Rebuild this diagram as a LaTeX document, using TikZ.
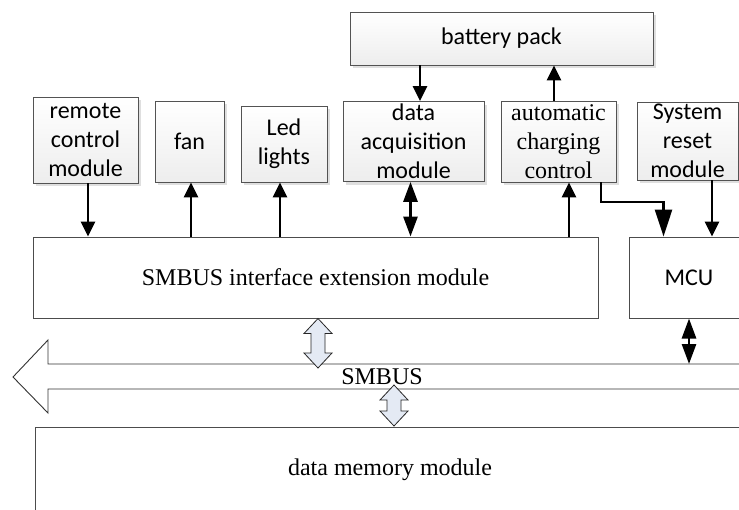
\documentclass[tikz,border=0pt]{standalone}
\usepackage{fontspec}
\setmainfont{Liberation Serif}
\setsansfont{Carlito}
\usetikzlibrary{arrows.meta,shadows,calc}
\definecolor{hollowfill}{RGB}{228,234,244}
\begin{document}
\begin{tikzpicture}[x=1pt,y=-1pt,
  box/.style={draw=gray!65!black, line width=0.8pt, top color=white, bottom color=gray!14,
    drop shadow={shadow xshift=3pt, shadow yshift=-3pt, fill=gray!25, opacity=1},
    font=\sffamily\fontsize{24}{29}\selectfont, align=center, inner sep=0pt},
  serifbox/.style={box, font=\rmfamily\fontsize{24}{29}\selectfont},
  bigbox/.style={draw=gray!60!black, line width=1pt, fill=white, inner sep=0pt},
  arr/.style={line width=2.8pt, -{Triangle[width=14pt,length=15pt]}},
  bigarr/.style={line width=2.8pt, -{Triangle[width=17pt,length=27pt]}},
  dblarr/.style={line width=2.8pt, {Triangle[width=14pt,length=20pt]}-{Triangle[width=14pt,length=20pt]}},
  hollow/.style={draw=gray!30!black, line width=0.8pt, fill=hollowfill},
  busline/.style={draw=black!80, line width=0.9pt, fill=white, line join=miter}
]
\clip (0,0) rectangle (739,509);
\fill[white] (0,0) rectangle (739,509);

% top boxes
\node[box, minimum width=303, minimum height=53] (bat) at (501.5,38.5) {battery pack};
\node[box, minimum width=105, minimum height=86] (rem) at (85.5,140) {remote\\control\\module};
\node[box, minimum width=69, minimum height=81] (fan) at (189.5,141.5) {fan};
\node[box, minimum width=86, minimum height=76] (led) at (284,144) {Led\\lights};
\node[box, minimum width=141, minimum height=80] (dacq) at (413.5,141.5) {data\\acquisition\\module};
\node[serifbox, minimum width=115, minimum height=81] (chg) at (558.5,141.5) {automatic\\charging\\control};
\node[box, minimum width=101, minimum height=78] (rst) at (687.5,141) {System\\reset\\module};

% big boxes
\node[bigbox, minimum width=565, minimum height=81, font=\rmfamily\fontsize{24}{29}\selectfont] (ifc) at (315.5,277.5) {SMBUS interface extension module};
\node[bigbox, minimum width=120, minimum height=81, font=\sffamily\fontsize{24}{29}\selectfont] (mcu) at (689,277.5) {MCU};
\node[bigbox, minimum width=710, minimum height=86, font=\rmfamily\fontsize{24}{29}\selectfont] (mem) at (390,470) {data memory module};

% bus
\draw[busline] (760,364) -- (48,364) -- (48,340) -- (13,377) -- (48,413) -- (48,389) -- (760,389);
\node[font=\rmfamily\fontsize{24}{29}\selectfont, anchor=base, inner sep=0pt] (bus) at (382,384) {SMBUS};
\coordinate (busN) at (0,364);

% hollow arrows
\newcommand\hollowarr[3]{\draw[hollow] (#1,#2) -- (#1+14,#2+15) -- (#1+7,#2+15) -- (#1+7,#3-15) -- (#1+14,#3-15) -- (#1,#3) -- (#1-14,#3-15) -- (#1-7,#3-15) -- (#1-7,#2+15) -- (#1-14,#2+15) -- cycle;}
\hollowarr{318}{318.5}{368}
\hollowarr{394}{385}{426}

% connectors
\draw[arr] ([xshift=2.5pt]rem.south) -- ([xshift=2.5pt]rem.south |- ifc.north);
\draw[arr] ([xshift=1.5pt]fan.south |- ifc.north) -- ([xshift=1.5pt]fan.south);
\draw[arr] ([xshift=-4pt]led.south |- ifc.north) -- ([xshift=-4pt]led.south);
\draw[arr] ([xshift=6.5pt]dacq.north |- bat.south) -- ([xshift=6.5pt]dacq.north);
\draw[dblarr] ([xshift=-3pt]dacq.south) -- ([xshift=-3pt]dacq.south |- ifc.north);
\draw[arr] ([xshift=-4.5pt]chg.north) -- ([xshift=-4.5pt]chg.north |- bat.south);
\draw[arr] ([xshift=10.5pt]chg.south |- ifc.north) -- ([xshift=10.5pt]chg.south);
\coordinate (bend) at (663.5,202);
\draw[bigarr, line join=miter] ([xshift=42.5pt]chg.south) |- (bend) -- (bend |- mcu.north);
\draw[arr] ([xshift=24.5pt]rst.south) -- ([xshift=24.5pt]rst.south |- mcu.north);
\draw[dblarr] (mcu.south) -- (mcu.south |- busN);
\end{tikzpicture}
\end{document}
